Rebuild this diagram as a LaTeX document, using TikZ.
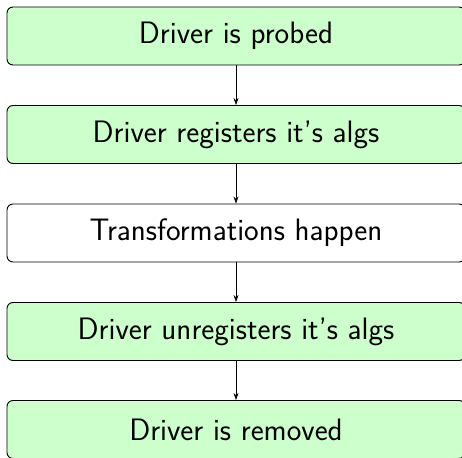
\documentclass[tikz,border=0pt]{standalone}
\usetikzlibrary{arrows.meta}
\definecolor{boxgreen}{HTML}{CCFFCC}
\begin{document}
\begin{tikzpicture}[x=1pt,y=-1pt,
  stepbox/.style={draw=black, line width=0.9pt, rounded corners=6pt, minimum width=458pt, minimum height=58pt, inner sep=0pt, font=\sffamily\fontsize{31}{36}\selectfont},
  greenbox/.style={stepbox, fill=boxgreen},
  whitebox/.style={stepbox, fill=white},
  conn/.style={draw=black, line width=0.7pt, -{Stealth[length=7pt,width=5pt]}}]
\useasboundingbox (0,0) rectangle (462,457);
\node[greenbox] (a) at (236,36) {Driver is probed};
\node[greenbox] (b) at (236,134.5) {Driver registers it's algs};
\node[whitebox] (c) at (236,233) {Transformations happen};
\node[greenbox] (d) at (236,331.5) {Driver unregisters it's algs};
\node[greenbox] (e) at (236,429.5) {Driver is removed};
\draw[conn] (a) -- (b);
\draw[conn] (b) -- (c);
\draw[conn] (c) -- (d);
\draw[conn] (d) -- (e);
\end{tikzpicture}
\end{document}
